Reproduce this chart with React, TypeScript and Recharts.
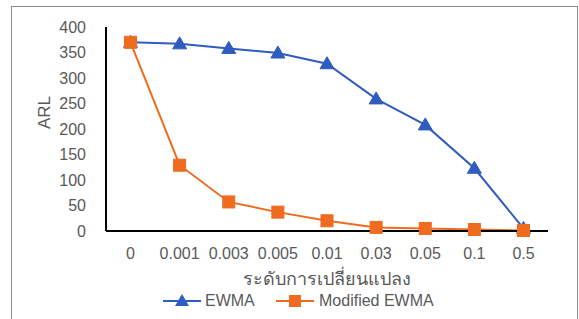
import React from 'react';
import { LineChart, Line, XAxis, YAxis } from 'recharts';

const categories = ['0', '0.001', '0.003', '0.005', '0.01', '0.03', '0.05', '0.1', '0.5'];
const ewma = [370, 367, 358, 349, 328, 259, 208, 123, 5];
const modifiedEwma = [370, 129, 57, 37, 20, 7, 5, 3, 1];
const yTicks = [0, 50, 100, 150, 200, 250, 300, 350, 400];

const data = categories.map((c, i) => ({ cat: c, ewma: ewma[i], mod: modifiedEwma[i] }));

const BLUE = '#2F5CBF';
const ORANGE = '#EE6B1F';
const FONT = '"Liberation Sans", "Noto Sans", sans-serif';

const Triangle = (props: any) => {
  const { cx, cy } = props;
  if (cx == null || cy == null) return null;
  return <path d={`M${cx},${cy - 7} L${cx + 7},${cy + 5} L${cx - 7},${cy + 5} Z`} fill={BLUE} stroke={BLUE} strokeWidth={1} />;
};

const Square = (props: any) => {
  const { cx, cy } = props;
  if (cx == null || cy == null) return null;
  return <rect x={cx - 6} y={cy - 6} width={12} height={12} fill={ORANGE} stroke={ORANGE} strokeWidth={1} />;
};

const LegendBox = () => (
  <svg width={579} height={24} style={{ display: 'block', position: 'absolute', left: 0, top: 289 }}>
    <line x1={163} y1={12} x2={201} y2={12} stroke={BLUE} strokeWidth={2} />
    <path d="M182,5 L189,17 L175,17 Z" fill={BLUE} />
    <text x={205} y={17} fontSize={16} fill="#595959" fontFamily={FONT}>EWMA</text>
    <line x1={276} y1={12} x2={314} y2={12} stroke={ORANGE} strokeWidth={2} />
    <rect x={289} y={6} width={12} height={12} fill={ORANGE} />
    <text x={319} y={17} fontSize={16} fill="#595959" fontFamily={FONT}>Modified EWMA</text>
  </svg>
);

export default function App() {
  return (
    <div style={{ position: 'absolute', left: 0, top: 0, width: 579, height: 319, background: '#fff', overflow: 'hidden' }}>
      <div style={{ position: 'absolute', left: 11, top: 6, width: 565, height: 330, border: '1px solid #8c8c8c' }} />
      <div style={{ position: 'absolute', left: 0, top: 0 }}>
        <LineChart width={579} height={319} data={data} margin={{ top: 27, right: 31, left: 46, bottom: 30 }}>
          <XAxis
            dataKey="cat"
            tickLine={false}
            axisLine={{ stroke: '#000', strokeWidth: 2 }}
            tick={{ fontSize: 16, fill: '#595959', fontFamily: FONT }}
            tickMargin={11}
            height={58}
            interval={0}
            padding={{ left: 24.5, right: 24.5 }}
            label={{ value: 'ระดับการเปลี่ยนแปลง', position: 'insideBottom', offset: 4, fontSize: 18, fill: '#595959', fontFamily: FONT }}
          />
          <YAxis
            domain={[0, 400]}
            ticks={yTicks}
            tickLine={false}
            axisLine={{ stroke: '#000', strokeWidth: 2 }}
            tick={{ fontSize: 16, fill: '#595959', fontFamily: FONT }}
            tickMargin={14}
            width={60}
            interval={0}
            label={{ value: 'ARL', angle: -90, position: 'insideLeft', offset: 0, dx: -2, fontSize: 17, fill: '#595959', fontFamily: FONT }}
          />
          <Line type="linear" dataKey="ewma" stroke={BLUE} strokeWidth={2} dot={<Triangle />} isAnimationActive={false} />
          <Line type="linear" dataKey="mod" stroke={ORANGE} strokeWidth={2} dot={<Square />} isAnimationActive={false} />
        </LineChart>
      </div>
      <LegendBox />
    </div>
  );
}
